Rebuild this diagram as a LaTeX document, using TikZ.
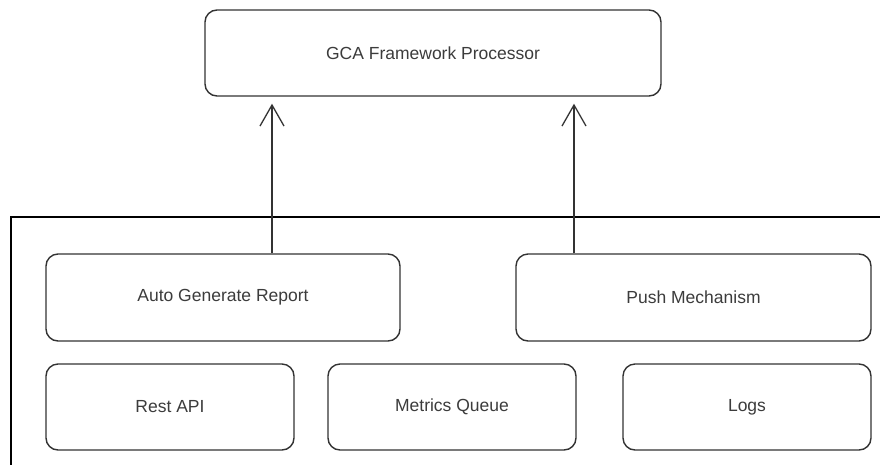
\documentclass[tikz,border=0pt]{standalone}
\usepackage{fontspec}
\setmainfont{Liberation Sans}
\usetikzlibrary{arrows.meta}
\definecolor{edge}{HTML}{333333}
\definecolor{label}{HTML}{3C3C3C}
\begin{document}
\begin{tikzpicture}[x=1pt,y=-1pt,
  box/.style={draw=edge, line width=1.4pt, rounded corners=12pt, fill=white,
    inner sep=0pt, text=label, font=\fontsize{17.5}{21}\selectfont},
  arr/.style={draw=edge, line width=1.3pt,
    -{Straight Barb[length=21pt,width=24pt,line width=1.3pt]}, shorten >=7pt},
  frame/.style={draw=black, line width=1.3pt}]
  \clip (0,0) rectangle (880,464);
  \fill[white] (0,0) rectangle (880,464);

  % container around the source components (runs off the right and bottom)
  \draw[frame] (11,217) rectangle (900,490);

  % target processor
  \node[box, minimum width=456pt, minimum height=86pt] (gca) at (433,53) {GCA Framework Processor};

  % upper row
  \node[box, minimum width=354pt, minimum height=87pt] (auto) at (223,297.5) {Auto Generate Report};
  \node[box, minimum width=355pt, minimum height=87pt] (push) at (693.5,297.5) {Push Mechanism};

  % lower row
  \node[box, minimum width=248pt, minimum height=86pt] (rest) at (170,407) {Rest API};
  \node[box, minimum width=248pt, minimum height=86pt] (metrics) at (452,407) {Metrics Queue};
  \node[box, minimum width=248pt, minimum height=86pt] (logs) at (747,407) {Logs};

  % arrow columns
  \coordinate (ax) at (272,0);
  \coordinate (px) at (574,0);
  \draw[arr] (auto.north -| ax) -- (gca.south -| ax);
  \draw[arr] (push.north -| px) -- (gca.south -| px);
\end{tikzpicture}
\end{document}
